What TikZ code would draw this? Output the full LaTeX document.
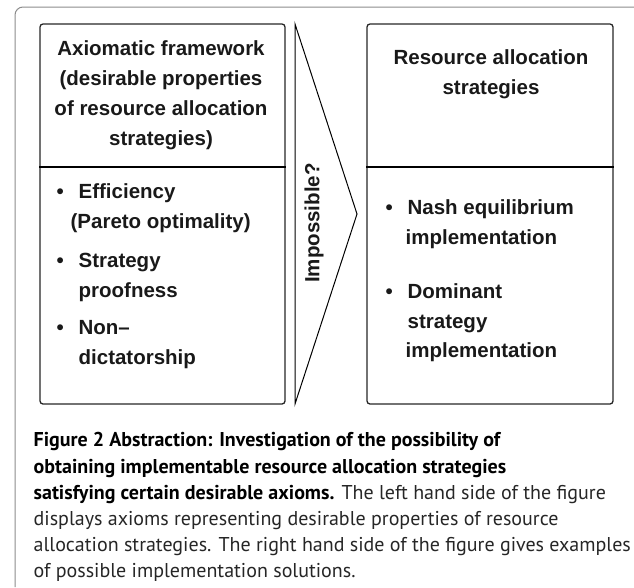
\documentclass[tikz,border=0pt]{standalone}
\usepackage{fontspec}
\setmainfont{Liberation Sans}
\newfontfamily\capfont{PT Sans}
\usetikzlibrary{positioning}

\newcommand{\bul}{\makebox[22pt][l]{\textbullet}}

\begin{document}
\begin{tikzpicture}[x=1pt,y=-1pt,line width=1.3pt]
\tikzset{
  panel/.style={draw=black!85,rounded corners=3pt,minimum width=245pt,
    minimum height=380pt,inner sep=0pt},
  head/.style={font=\bfseries\fontsize{20.5}{30}\selectfont,align=center,
    text=black!90,inner sep=0pt},
  item/.style={font=\bfseries\fontsize{20.5}{29.5}\selectfont,align=left,
    text=black!90,inner sep=0pt,anchor=north west},
}
\useasboundingbox (0,0) rectangle (634,587);
% ---- outer frame, open on the right and at the bottom ----
\draw[black!45,line width=1pt,rounded corners=8pt] (634,7) -- (15,7) -- (15,587);
% ---- left: axioms ----
\node[panel] (axioms) at (162.5,214) {};
\draw (axioms.west |- 0,167) -- (axioms.east |- 0,167);
\node[head] (axhead) at (161,95)
  {Axiomatic framework\\(desirable properties\\of resource allocation\\strategies)};
\node[item] (eff) at (56,183) {\bul Efficiency\\\hspace*{14pt}(Pareto optimality)};
\node[item] (sp) at (56,253) {\bul Strategy\\\hspace*{22pt}proofness};
\node[item] (nd) at (56,320) {\bul Non--\\\hspace*{22pt}dictatorship};
% ---- middle: chevron ----
\draw[line width=1pt] (295,24) -- (357,214) -- (295,404) -- cycle;
\node[head,rotate=90] (imp) at (314,223) {Impossible?};
% ---- right: strategies ----
\node[panel,minimum width=246pt] (strat) at (490,214) {};
\draw (strat.west |- 0,167) -- (strat.east |- 0,167);
\node[head] (sthead) at (491,74) {Resource allocation\\strategies};
\node[item] (nash) at (385,199) {\bul Nash equilibrium\\\hspace*{20pt}implementation};
\node[item] (dom) at (385,283) {\bul Dominant\\\hspace*{22pt}strategy\\\hspace*{20pt}implementation};
% ---- caption ----
\node[anchor=north west,inner sep=0pt,align=left,text=black!85,
  font=\capfont\fontsize{20}{26.2}\selectfont] (cap) at (33,432)
  {\textbf{\color{black}Figure 2 Abstraction: Investigation of the possibility of}\\
   \textbf{\color{black}obtaining implementable resource allocation strategies}\\
   \textbf{\color{black}satisfying certain desirable axioms.} The left hand side of the figure\\
   displays axioms representing desirable properties of resource\\
   allocation strategies. The right hand side of the figure gives examples\\
   of possible implementation solutions.};
\end{tikzpicture}
\end{document}
